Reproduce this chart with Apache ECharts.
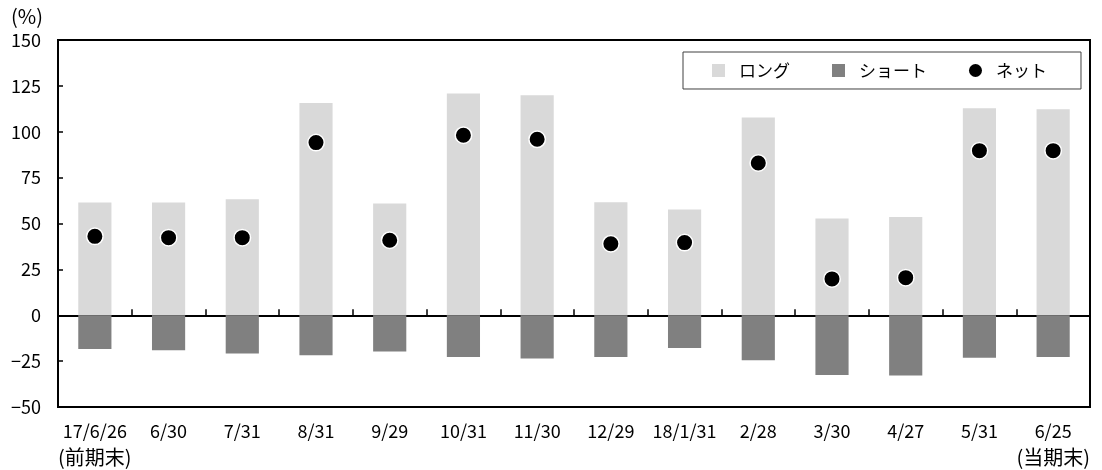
<!DOCTYPE html>
<html>
<head>
<meta charset="utf-8">
<script src="https://cdn.jsdelivr.net/npm/echarts@6/dist/echarts.min.js"></script>
<style>
  html, body { margin: 0; padding: 0; background: #fff; }
  #chart { width: 1102px; height: 470px; }
</style>
</head>
<body>
<div id="chart"></div>
<script>
// Position ratios per date (%)
const categories = ['17/6/26\n(前期末)', '6/30', '7/31', '8/31', '9/29', '10/31', '11/30', '12/29', '18/1/31', '2/28', '3/30', '4/27', '5/31', '6/25\n(当期末)'];
const longValues = [61.4, 61.4, 63.2, 115.7, 60.9, 120.8, 119.9, 61.6, 57.6, 107.7, 52.7, 53.6, 112.8, 112.3];
const shortValues = [-18.4, -19.1, -20.9, -21.8, -19.8, -22.7, -23.6, -22.7, -17.8, -24.5, -32.5, -32.9, -23.1, -22.7];
const netValues = [43.0, 42.3, 42.3, 94.1, 40.9, 98.1, 95.9, 39.0, 39.6, 83.0, 19.8, 20.5, 89.7, 89.7];
const seriesNames = ['ロング', 'ショート', 'ネット'];

const FONT = '"Noto Sans CJK JP", "Noto Sans", sans-serif';
const DOT_ICON = 'path://M50,0A50,50,0,1,1,49.99,0Z';
const chart = echarts.init(document.getElementById('chart'), null, { renderer: 'canvas' });

// date on the first line, period note (if any) slightly larger on the second
function categoryLabel(value) {
  const parts = value.split('\n');
  return parts.length > 1 ? parts[0] + '\n{note|' + parts[1] + '}' : value;
}

chart.setOption({
  animation: false,
  backgroundColor: '#fff',
  textStyle: { fontFamily: FONT, color: '#000' },
  grid: {
    left: 58, right: 12, top: 40, bottom: 63,
    show: true, borderColor: '#000', borderWidth: 2, backgroundColor: 'transparent'
  },
  legend: {
    left: 683, top: 52,
    padding: [10, 34, 10, 29],
    itemGap: 42,
    itemWidth: 13, itemHeight: 13,
    borderColor: '#404040', borderWidth: 1,
    backgroundColor: '#fff',
    textStyle: { fontFamily: FONT, fontSize: 17, color: '#000', padding: [0, 0, 0, 9] },
    data: [
      { name: seriesNames[0], icon: 'rect', itemStyle: { borderWidth: 0 } },
      { name: seriesNames[1], icon: 'rect', itemStyle: { borderWidth: 0 } },
      { name: seriesNames[2], icon: DOT_ICON, itemStyle: { borderWidth: 0, color: '#000' } }
    ]
  },
  xAxis: [
    {
      type: 'category',
      data: categories,
      position: 'bottom',
      axisLine: { show: false, onZero: false },
      axisTick: { show: false },
      axisLabel: {
        fontFamily: FONT, fontSize: 18, color: '#000',
        margin: 11, lineHeight: 26, interval: 0,
        formatter: categoryLabel,
        rich: { note: { fontFamily: FONT, fontSize: 20, color: '#000', lineHeight: 26 } }
      }
    },
    {
      // zero line with category separators
      type: 'category',
      data: categories,
      position: 'bottom',
      axisLine: { show: true, onZero: true, lineStyle: { color: '#000', width: 2 } },
      axisTick: { show: true, inside: true, length: 6, lineStyle: { color: '#000', width: 1.5 } },
      axisLabel: { show: false }
    }
  ],
  yAxis: {
    type: 'value',
    min: -50, max: 150, interval: 25,
    name: '(%)',
    nameLocation: 'end',
    nameGap: 14,
    nameTextStyle: { fontFamily: FONT, fontSize: 20, color: '#000', align: 'right', padding: [0, 15, 0, 0] },
    axisLine: { show: false },
    axisTick: { show: true, inside: true, length: 5, lineStyle: { color: '#000', width: 1.5 } },
    splitLine: { show: false },
    axisLabel: {
      fontFamily: FONT, fontSize: 18, color: '#000', margin: 17,
      formatter: function (v) { return v < 0 ? '−' + Math.abs(v) : String(v); }
    }
  },
  series: [
    {
      name: seriesNames[0], type: 'bar', xAxisIndex: 0,
      data: longValues, barWidth: '45%', barGap: '-100%',
      itemStyle: { color: '#d9d9d9' }
    },
    {
      name: seriesNames[1], type: 'bar', xAxisIndex: 0,
      data: shortValues, barWidth: '45%', barGap: '-100%',
      itemStyle: { color: '#808080' }
    },
    {
      name: seriesNames[2], type: 'scatter', xAxisIndex: 0,
      data: netValues, symbol: 'circle', symbolSize: 16.5, z: 5,
      itemStyle: { color: '#000', borderColor: '#fff', borderWidth: 1.5, opacity: 1 }
    }
  ]
});
</script>
</body>
</html>
